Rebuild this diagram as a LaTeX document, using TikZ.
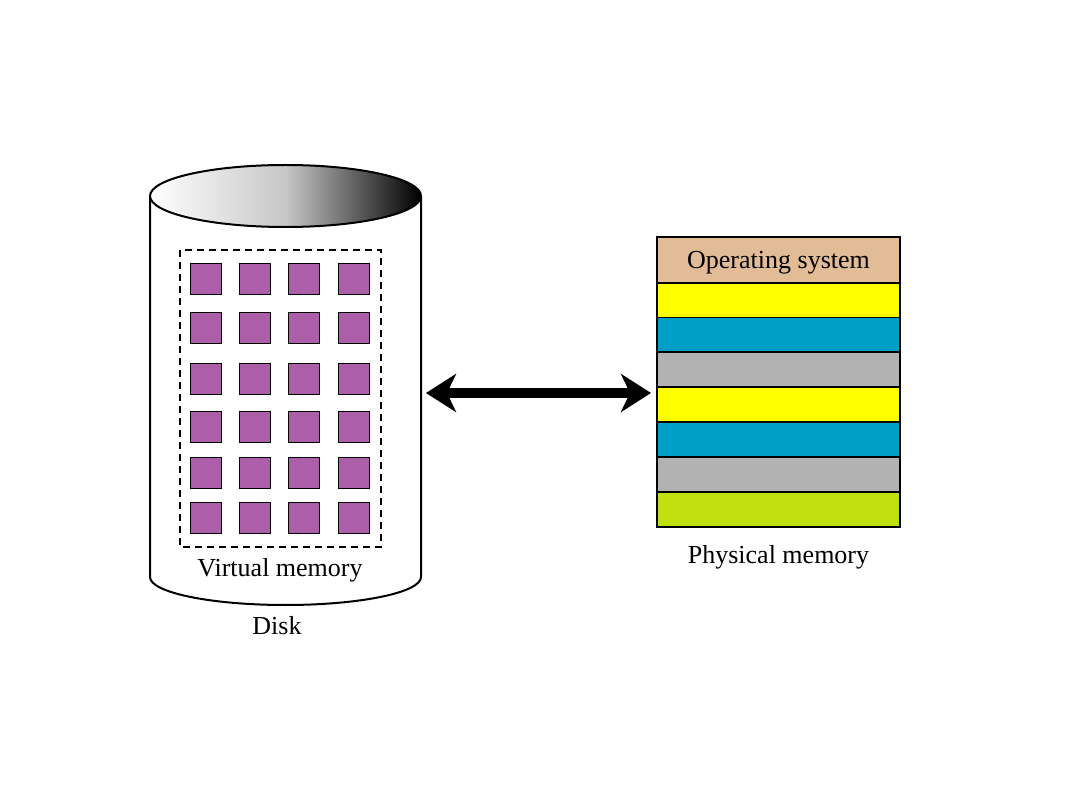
\documentclass[tikz,border=0pt]{standalone}
\usepackage{fontspec}
\setmainfont{Liberation Serif}
\usetikzlibrary{arrows.meta}
\definecolor{pagepurple}{RGB}{173,94,168}
\definecolor{ostan}{RGB}{226,188,150}
\definecolor{memyellow}{RGB}{255,255,0}
\definecolor{memcyan}{RGB}{0,160,198}
\definecolor{memgray}{RGB}{178,178,178}
\definecolor{memlime}{RGB}{192,224,16}
\tikzset{
  txt/.style={font=\fontsize{26}{30}\selectfont, inner sep=0pt},
  pagebox/.style={draw=black, line width=1.4pt, fill=pagepurple, minimum width=31pt, minimum height=31pt, inner sep=0pt},
  band/.style={draw=black, line width=1.3pt, minimum width=243pt, inner sep=0pt},
  outline/.style={draw=black, line width=2pt},
  bigarrow/.style={line width=10.5pt, {Stealth[length=30pt,width=38pt,inset=9pt]}-{Stealth[length=30pt,width=38pt,inset=9pt]}}
}
\begin{document}
\begin{tikzpicture}[x=1pt,y=-1pt]
\useasboundingbox (0,0) rectangle (1080,810);
% disk body
\filldraw[outline, fill=white] (150,196) -- (150,577) arc[start angle=180, end angle=0, x radius=135.5, y radius=28] -- (421,196);
% disk top
\shade[left color=white, right color=black, middle color=black!22] (285.5,196) ellipse[x radius=135.5, y radius=31];
\draw[outline] (285.5,196) ellipse[x radius=135.5, y radius=31];
\coordinate (diskright) at (426,393);
% virtual memory area
\draw[line width=1.8pt, dash pattern=on 7pt off 5pt] (180,250) rectangle (381,547);
\foreach \r/\y in {1/279,2/328,3/379,4/427,5/473,6/518}{
  \foreach \c/\x in {1/206,2/255,3/304,4/354}{
    \node[pagebox] (p\r\c) at (\x,\y) {};
  }
}
\node[txt] (vm) at (280,570) {Virtual memory};
\node[txt] (disk) at (277,626) {Disk};
% physical memory
\node[band, fill=ostan, minimum height=46pt] (b0) at (778.5,260) {};
\node[txt] (os) at (778.5,263) {Operating system};
\node[band, fill=memyellow, minimum height=35pt] (b1) at (778.5,300.5) {};
\node[band, fill=memcyan, minimum height=35pt] (b2) at (778.5,335) {};
\node[band, fill=memgray, minimum height=35pt] (b3) at (778.5,369.5) {};
\node[band, fill=memyellow, minimum height=35pt] (b4) at (778.5,404.5) {};
\node[band, fill=memcyan, minimum height=35pt] (b5) at (778.5,439.5) {};
\node[band, fill=memgray, minimum height=35pt] (b6) at (778.5,474.5) {};
\node[band, fill=memlime, minimum height=35pt] (b7) at (778.5,509.5) {};
\node[txt] (pm) at (778.5,557) {Physical memory};
\coordinate (memleft) at (651,393);
\draw[bigarrow] (diskright) -- (memleft);
\end{tikzpicture}
\end{document}
